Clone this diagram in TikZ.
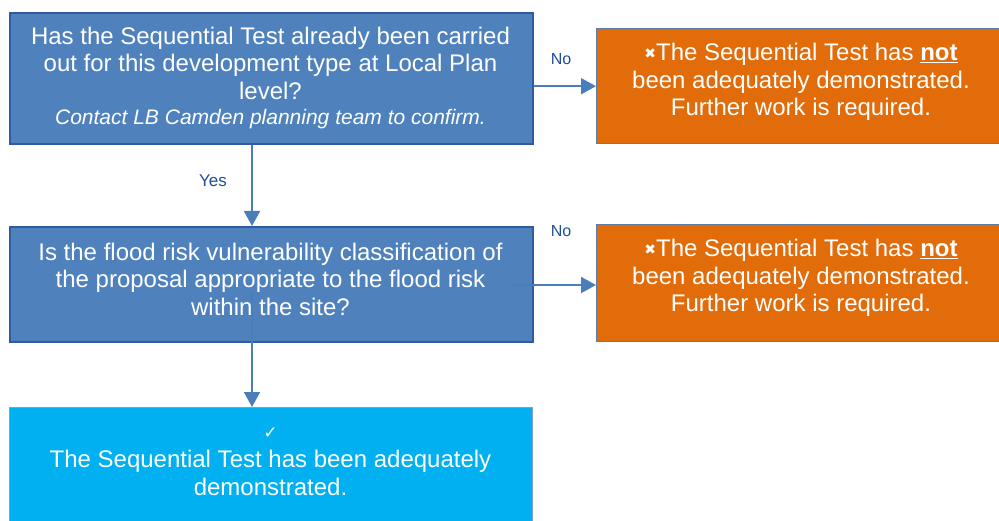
\documentclass[tikz,border=0pt]{standalone}
\usepackage{fontspec}
\setmainfont{Liberation Sans}
\newfontfamily\symfont{DejaVu Sans}
\usetikzlibrary{arrows.meta}
\definecolor{qblue}{HTML}{4F81BD}
\definecolor{qblueedge}{HTML}{2F5C9E}
\definecolor{rorange}{HTML}{E36C0A}
\definecolor{redge}{HTML}{5F7BA3}
\definecolor{okcyan}{HTML}{00B0F0}
\definecolor{okedge}{HTML}{7F9FD0}
\definecolor{lblblue}{HTML}{1F4E99}
\definecolor{arrblue}{HTML}{4A7EBB}
\tikzset{
  qbox/.style={draw=qblueedge, line width=1.6pt, fill=qblue, anchor=north west, inner sep=0pt},
  rbox/.style={draw=redge, line width=1.4pt, fill=rorange, anchor=north west, inner sep=0pt},
  okbox/.style={draw=okedge, line width=1.4pt, fill=okcyan, anchor=north west, inner sep=0pt},
  boxtext/.style={text=white, align=center, font=\fontsize{24}{27.5}\selectfont, inner sep=0pt},
  lbl/.style={text=lblblue, font=\fontsize{16}{18}\selectfont, inner sep=0pt},
  arr/.style={draw=arrblue, line width=1.9pt, -{Triangle[width=16pt,length=15pt]}},
}
\newcommand{\xmarkglyph}{{\symfont\fontsize{14}{14}\selectfont\raisebox{2pt}{\textbf{✖}}}}
\begin{document}
\begin{tikzpicture}[x=1pt,y=-1pt]
\useasboundingbox (0,0) rectangle (999,521);
% boxes
\node[qbox, minimum width=523pt, minimum height=131pt] (b1) at (9,12) {};
\node[rbox, minimum width=412pt, minimum height=115pt] (o1) at (596,28) {};
\node[qbox, minimum width=523pt, minimum height=115pt] (b2) at (9,226) {};
\node[rbox, minimum width=412pt, minimum height=117pt] (o2) at (596,224) {};
\node[okbox, minimum width=523pt, minimum height=130pt] (b3) at (9,407) {};
% texts
\node[boxtext] (t1) at (270.5,78) {Has the Sequential Test already been carried\\out for this development type at Local Plan\\level?\\[-2pt]{\fontsize{21}{24}\selectfont\itshape Contact LB Camden planning team to confirm.}};
\node[boxtext] (t2) at (801,82) {\xmarkglyph The Sequential Test has \underline{\textbf{not}}\\been adequately demonstrated.\\Further work is required.};
\node[boxtext] (t3) at (270.5,279) {Is the flood risk vulnerability classification of\\the proposal appropriate to the flood risk\\within the site?};
\node[boxtext] (t4) at (801,278) {\xmarkglyph The Sequential Test has \underline{\textbf{not}}\\been adequately demonstrated.\\Further work is required.};
\node[boxtext, font=\fontsize{24}{28}\selectfont] (t5) at (270.5,462) {{\symfont\fontsize{17}{20}\selectfont ✓}\\[1pt]The Sequential Test has been adequately\\demonstrated.};
% connectors
\coordinate (cx) at (252,0);
\coordinate (s2) at (514,285);
\coordinate (s3) at (252,292);
\draw[arr] (b1.east |- o1.west) -- (o1.west);
\draw[arr] (b1.south -| cx) -- (b2.north -| cx);
\draw[arr] (s2) -- (s2 -| o2.west);
\draw[arr] (s3) -- (b3.north -| cx);
% labels
\node[lbl] (l1) at (561,59) {No};
\node[lbl, font=\fontsize{17}{19}\selectfont] (l2) at (213,181) {Yes};
\node[lbl] (l3) at (561,231) {No};
\end{tikzpicture}
\end{document}
